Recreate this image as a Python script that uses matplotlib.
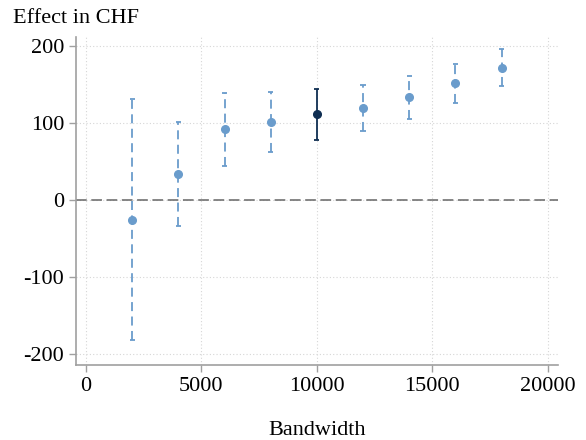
import matplotlib.pyplot as plt

bandwidth = [2000, 4000, 6000, 8000, 10000, 12000, 14000, 16000, 18000]
effect = [-26, 34, 92, 101, 112, 120, 134, 152, 172]
ci_low = [-182, -34, 45, 62, 78, 90, 106, 126, 148]
ci_high = [131, 101, 139, 140, 145, 150, 161, 177, 196]
main_bw = 10000

plt.rcParams['font.family'] = ['Liberation Serif', 'DejaVu Serif']
plt.rcParams['axes.unicode_minus'] = False
light = '#6a9ccc'
dark = '#0f2e52'

fig = plt.figure(figsize=(5.86, 4.4), dpi=100)
ax = fig.add_axes([0.1297, 0.1705, 0.822, 0.7455])

ax.axhline(0, color='#666666', lw=1.1, ls=(0, (7, 3)), zorder=1)

for x, y, lo, hi in zip(bandwidth, effect, ci_low, ci_high):
    c = dark if x == main_bw else light
    ls = '-' if x == main_bw else (0, (5, 3))
    ax.vlines(x, lo, hi, color=c, lw=1.3, linestyles=ls, zorder=3)
    ax.hlines([lo, hi], x - 110, x + 110, color=c, lw=1.3, zorder=3)
    ax.plot(x, y, 'o', color=c, ms=5.5, zorder=4)

ax.set_xlim(-433, 20433)
ax.set_ylim(-214, 212)
ax.set_xticks([0, 5000, 10000, 15000, 20000])
ax.set_yticks([-200, -100, 0, 100, 200])
ax.grid(True, color='#d6d6d6', ls=(0, (1, 2)), lw=0.8)
ax.set_axisbelow(True)

for s in ['top', 'right']:
    ax.spines[s].set_visible(False)
for s in ['left', 'bottom']:
    ax.spines[s].set_color('#a0a0a0')
    ax.spines[s].set_linewidth(1.2)
ax.tick_params(colors='#a0a0a0', labelcolor='black', labelsize=16, length=5, width=1)

ax.set_xlabel('Bandwidth', fontsize=16, labelpad=18)
fig.text(0.022, 0.958, 'Effect in CHF', fontsize=16, va='center', ha='left')

fig.savefig('out.png', dpi=100)
